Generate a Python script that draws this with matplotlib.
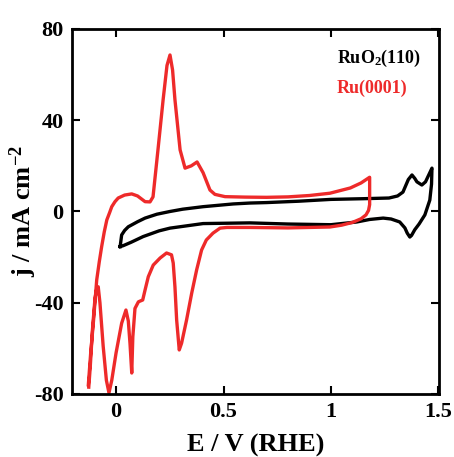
import numpy as np
import matplotlib
matplotlib.use('Agg')
import matplotlib.pyplot as plt

plt.rcParams['font.family'] = ['Liberation Serif', 'DejaVu Serif']
plt.rcParams['font.weight'] = 'bold'
plt.rcParams['mathtext.fontset'] = 'custom'
plt.rcParams['mathtext.rm'] = 'Liberation Serif:bold'
plt.rcParams['mathtext.bf'] = 'Liberation Serif:bold'
plt.rcParams['mathtext.default'] = 'bf'
plt.rcParams['axes.unicode_minus'] = False

# Ru(0001): anodic sweep then cathodic sweep
ru_E = [-0.129, -0.118, -0.105, -0.09, -0.078, -0.067, -0.055, -0.043, -0.03, -0.02, -0.005, 0.01, 0.04,
        0.073, 0.1, 0.135, 0.158,
        0.172, 0.195, 0.219, 0.237, 0.251, 0.263, 0.274, 0.298, 0.321, 0.35, 0.377, 0.405, 0.437, 0.46,
        0.507, 0.6, 0.7, 0.8, 0.9, 0.995, 1.09, 1.14, 1.18,
        1.18, 1.175, 1.163, 1.14, 1.1, 1.05, 0.995, 0.8, 0.623, 0.516, 0.484, 0.451, 0.42, 0.398, 0.375,
        0.352, 0.328, 0.305, 0.294, 0.282, 0.274, 0.266, 0.258, 0.235, 0.205, 0.173, 0.15, 0.135, 0.124,
        0.104, 0.088, 0.078, 0.073, 0.065, 0.057, 0.046, 0.026, 0.0, -0.02, -0.033, -0.045, -0.06,
        -0.075, -0.083, -0.09, -0.098, -0.11, -0.12, -0.127]
ru_j = [-76, -62, -48, -30, -22, -15.4, -9, -3.7, -0.5, 2.1, 4.3, 5.9, 7.2,
        7.7, 6.8, 4.3, 4.2,
        6.4, 27, 49, 64, 68.6, 62, 49, 27, 19, 20, 21.7, 17, 9.4, 7.5,
        6.5, 6.3, 6.2, 6.4, 7, 8, 10.3, 12.5, 15,
        3, 0.5, -1.5, -3.2, -4.8, -6, -6.8, -7.2, -7, -7, -7.3, -9.5, -12.5, -16.9, -25.6,
        -35.8, -47.6, -57.7, -60.7, -47.6, -33, -22.6, -19, -18.2, -20.4, -23.5, -28.6, -34.4, -38.8,
        -39.6, -42.5, -55, -70.8, -58, -48, -43.2, -49, -62, -74, -79.5, -74, -59,
        -40, -33, -34, -38, -52, -68, -77]

# RuO2(110)
ruo2_E = [0.019, 0.026, 0.04, 0.057, 0.1, 0.135, 0.19, 0.251, 0.31, 0.405, 0.545, 0.623, 0.7, 0.85,
          1.0, 1.15, 1.27, 1.31, 1.335, 1.36, 1.377, 1.39, 1.4, 1.423, 1.44, 1.455, 1.47,
          1.468, 1.46, 1.437, 1.41, 1.39, 1.375, 1.367, 1.355, 1.344, 1.32, 1.28, 1.243, 1.18, 1.12,
          1.0, 0.8, 0.623, 0.405, 0.251, 0.2, 0.126, 0.07, 0.033, 0.019]
ruo2_j = [-15.4, -10.3, -8.3, -6.7, -4.5, -2.9, -1.2, 0, 1, 2.1, 3.3, 3.7, 3.9, 4.5,
          5.3, 5.6, 5.9, 6.8, 8.5, 14, 16, 14.5, 13, 11.6, 13, 16, 19,
          12, 5, -1.5, -5.5, -8, -10.5, -11.2, -9.5, -7.2, -4.6, -3.3, -2.9, -3.5, -4.6,
          -5.8, -5.5, -5, -5.3, -7.3, -8.5, -11, -13.5, -15, -15.4]

fig = plt.figure(figsize=(4.54, 4.57), dpi=100)
ax = fig.add_axes([0.1586, 0.1379, 0.808, 0.7987])

ax.plot(ruo2_E, ruo2_j, color='black', lw=2.4, solid_joinstyle='round')
ax.plot(ru_E, ru_j, color='#ee2a2a', lw=2.4, solid_joinstyle='round')

ax.set_xlim(-0.205, 1.502)
ax.set_ylim(-80, 80)
ax.set_xticks([0, 0.5, 1, 1.5])
ax.set_xticklabels(['0', '0.5', '1', '1.5'])
ax.set_yticks([-80, -40, 0, 40, 80])
ax.tick_params(direction='in', length=6, width=1.5, top=True, right=True, labelsize=16, pad=6)
for s in ax.spines.values():
    s.set_linewidth(2)

ax.set_xlabel('E / V (RHE)', fontsize=19, fontweight='bold', labelpad=8)
ax.set_ylabel('j / mA cm$^{-2}$', fontsize=19, fontweight='bold', labelpad=-4)

ax.text(0.722, 0.919, 'RuO$_2$(110)', transform=ax.transAxes, color='black',
        fontsize=13, fontweight='bold', va='center')
ax.text(0.722, 0.838, 'Ru(0001)', transform=ax.transAxes, color='#ee2a2a',
        fontsize=13, fontweight='bold', va='center')

fig.savefig('out.png', dpi=100)
